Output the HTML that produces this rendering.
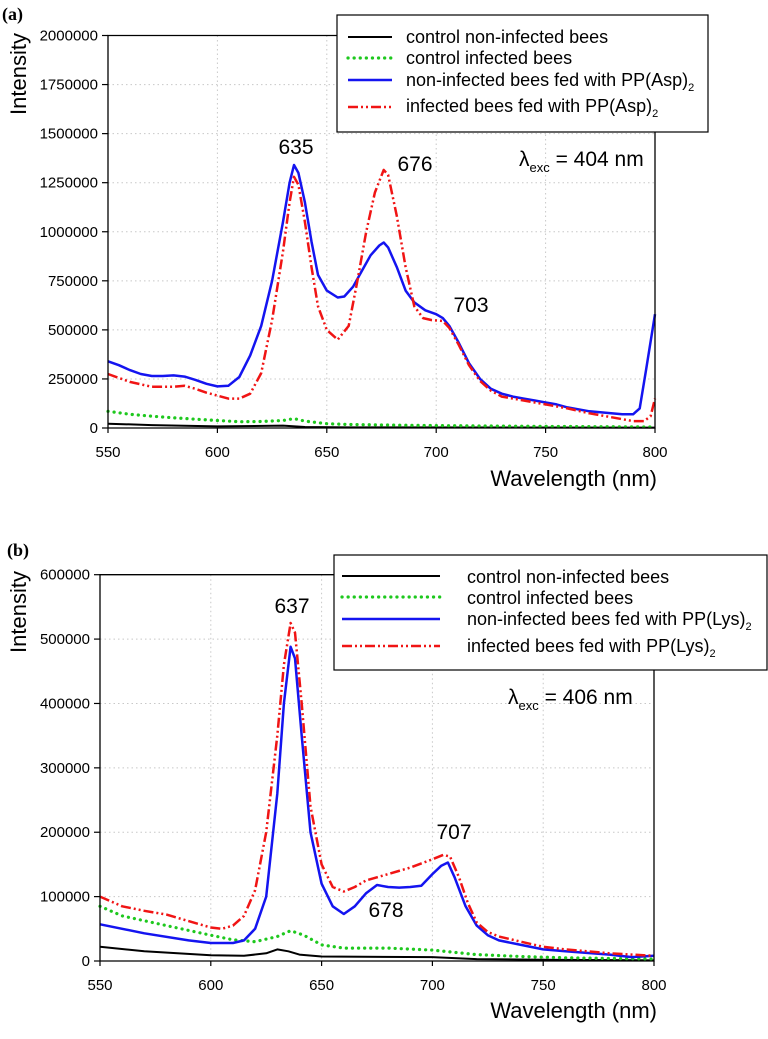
<!DOCTYPE html>
<html><head><meta charset="utf-8"><style>
body{margin:0;background:#fff;}
svg{display:block;font-family:"Liberation Sans",Arial,sans-serif;}
</style></head><body>
<svg id="c" width="768" height="1039" viewBox="0 0 768 1039" xmlns="http://www.w3.org/2000/svg"></svg>
<script>
// ---- Panel (a) data ----
const aTicksX=[550,600,650,700,750,800];
const aTicksY=[0,250000,500000,750000,1000000,1250000,1500000,1750000,2000000];
const aBlackX=[550,570,600,630,640,660,800];
const aBlackY=[22000,15000,8000,12000,5000,3000,2000];
const aGreenX=[550,560,570,580,590,600,610,620,630,635,640,650,660,680,700,750,800];
const aGreenY=[85000,70000,60000,52000,45000,38000,32000,33000,38000,48000,35000,22000,18000,15000,12000,8000,5000];
const aBlueX=[550,555,560,565,570,575,580,585,590,595,600,605,610,615,620,625,630,633,635,637,640,643,646,650,655,658,662,666,670,674,676,678,682,686,690,695,700,703,706,710,715,720,725,730,735,740,745,750,755,760,765,770,775,780,785,790,793,796,800];
const aBlueY=[340000,320000,295000,275000,265000,265000,268000,262000,245000,225000,212000,215000,260000,370000,520000,750000,1050000,1250000,1340000,1300000,1150000,950000,780000,700000,665000,670000,720000,800000,880000,930000,945000,920000,820000,700000,640000,600000,580000,560000,520000,440000,330000,250000,200000,175000,160000,150000,140000,130000,120000,105000,95000,85000,80000,75000,70000,70000,100000,300000,580000];
const aRedX=[550,560,570,580,585,590,595,600,605,610,615,620,625,630,633,635,637,640,643,646,650,655,660,664,668,672,676,678,682,686,690,694,698,703,706,710,715,720,725,730,740,750,760,770,780,790,795,798,800];
const aRedY=[275000,235000,210000,210000,215000,200000,180000,165000,150000,150000,175000,280000,550000,900000,1150000,1280000,1240000,1050000,820000,620000,500000,450000,520000,750000,1000000,1200000,1315000,1290000,1080000,820000,620000,560000,550000,545000,510000,430000,320000,240000,190000,160000,140000,120000,100000,75000,55000,35000,35000,60000,150000];
// ---- Panel (b) data ----
const bTicksX=[550,600,650,700,750,800];
const bTicksY=[0,100000,200000,300000,400000,500000,600000];
const bBlackX=[550,570,600,615,625,630,635,640,650,700,720,750,800];
const bBlackY=[22000,15000,9000,8000,12000,18000,15000,10000,7000,6000,3000,2000,1000];
const bGreenX=[550,560,580,600,610,620,630,636,642,650,660,680,700,720,740,760,800];
const bGreenY=[85000,70000,55000,40000,33000,30000,38000,47000,40000,25000,20000,20000,17000,10000,7000,5000,3000];
const bBlueX=[550,570,590,600,610,615,620,625,630,633,636,638,641,645,650,655,660,665,670,675,680,685,690,695,700,704,707,710,715,720,725,730,740,750,760,780,790,800];
const bBlueY=[57000,43000,32000,28000,28000,32000,50000,100000,260000,400000,488000,470000,350000,200000,120000,85000,73000,85000,105000,118000,115000,114000,115000,117000,135000,148000,153000,130000,85000,55000,40000,32000,25000,18000,15000,10000,6000,8000];
const bRedX=[550,560,570,580,590,600,605,610,615,620,625,630,633,636,638,641,645,650,655,660,665,670,680,690,700,705,708,712,716,720,725,730,740,750,760,770,780,790,800];
const bRedY=[100000,85000,78000,72000,62000,52000,50000,55000,70000,110000,200000,350000,460000,525000,510000,400000,240000,150000,115000,108000,115000,125000,135000,145000,158000,165000,162000,130000,90000,60000,45000,38000,30000,22000,18000,15000,12000,10000,8000];

const NS="http://www.w3.org/2000/svg";
const svg=document.getElementById('c');
function mk(tag,attrs,parent){const e=document.createElementNS(NS,tag);for(const k in attrs)e.setAttribute(k,attrs[k]);(parent||svg).appendChild(e);return e;}

function panel(cfg){
  const g=mk('g',{});
  
  
  const sx=v=>cfg.x0+(v-550)/250*(cfg.x1-cfg.x0);
  const sy=v=>cfg.y0-v/cfg.ymax*(cfg.y0-cfg.y1);
  cfg.tx.forEach(t=>{ if(t>550&&t<800){const l=mk('line',{x1:sx(t),x2:sx(t),y1:cfg.y1,y2:cfg.y0,stroke:'#c8c8c8','stroke-width':1,'stroke-dasharray':'1.5,3'},g);
    
    }});
  cfg.ty.forEach(t=>{ if(t>0&&t<cfg.ymax){const l=mk('line',{x1:cfg.x0,x2:cfg.x1,y1:sy(t),y2:sy(t),stroke:'#c8c8c8','stroke-width':1,'stroke-dasharray':'1.5,3'},g);
    
    }});
  cfg.series.forEach(s=>{
    const d=s.x.map((x,i)=>(i?'L':'M')+sx(x).toFixed(1)+','+sy(s.y[i]).toFixed(1)).join('');
    const p=mk('path',{d:d,fill:'none',stroke:s.c,'stroke-width':s.w,'stroke-dasharray':s.dash||'none','stroke-linecap':s.cap||'butt','stroke-linejoin':'round'},g);
    
    
  });
  const f=mk('path',{d:`M${cfg.x0},${cfg.y1}H${cfg.x1}V${cfg.y0}H${cfg.x0}Z`,fill:'none',stroke:'#000','stroke-width':1.3},g);
  
  
  cfg.tx.forEach(t=>{
    mk('line',{x1:sx(t),x2:sx(t),y1:cfg.y0,y2:cfg.y0+5,stroke:'#000','stroke-width':1.2},g);
    const tl=mk('text',{x:sx(t),y:cfg.y0+29,'font-size':15,'text-anchor':'middle'},g);
    tl.textContent=t;
    
    
  });
  cfg.ty.forEach(t=>{
    mk('line',{x1:cfg.x0-6,x2:cfg.x0,y1:sy(t),y2:sy(t),stroke:'#000','stroke-width':1.2},g);
    const tl=mk('text',{x:cfg.x0-10,y:sy(t)+5,'font-size':15,'text-anchor':'end'},g);
    tl.textContent=t;
    
    
  });
}

panel({name:'panel-a',x0:108,x1:655,y0:428,y1:35.5,ymax:2000000,tx:aTicksX,ty:aTicksY,series:[
 {name:'series-control-non-infected',x:aBlackX,y:aBlackY,c:'#000',w:2},
 {name:'series-control-infected',x:aGreenX,y:aGreenY,c:'#1ec81e',w:3.2,dash:'0.1,6',cap:'round'},
 {name:'series-non-infected-fed',x:aBlueX,y:aBlueY,c:'#1414f0',w:2.5},
 {name:'series-infected-fed',x:aRedX,y:aRedY,c:'#f01414',w:2.5,dash:'10,3,2,3,2,3'}]});
panel({name:'panel-b',x0:100,x1:654,y0:961,y1:574.7,ymax:600000,tx:bTicksX,ty:bTicksY,series:[
 {name:'series-control-non-infected',x:bBlackX,y:bBlackY,c:'#000',w:2},
 {name:'series-control-infected',x:bGreenX,y:bGreenY,c:'#1ec81e',w:3.2,dash:'0.1,6',cap:'round'},
 {name:'series-non-infected-fed',x:bBlueX,y:bBlueY,c:'#1414f0',w:2.5},
 {name:'series-infected-fed',x:bRedX,y:bRedY,c:'#f01414',w:2.5,dash:'10,3,2,3,2,3'}]});
</script>
<svg width="768" height="1039" style="position:absolute;left:0;top:0" xmlns="http://www.w3.org/2000/svg" font-family="Liberation Sans, Arial, sans-serif">
 <text x="2" y="20" font-family="Liberation Serif, serif" font-weight="bold" font-size="18">(a)</text>
 <text x="7" y="556" font-family="Liberation Serif, serif" font-weight="bold" font-size="18">(b)</text>
 <text transform="translate(26,74) rotate(-90)" text-anchor="middle" font-size="22">Intensity</text>
 <text transform="translate(26,612) rotate(-90)" text-anchor="middle" font-size="22">Intensity</text>
 <text x="657" y="486" text-anchor="end" font-size="22">Wavelength (nm)</text>
 <text x="657" y="1018" text-anchor="end" font-size="22">Wavelength (nm)</text>
 <text x="296" y="154" text-anchor="middle" font-size="21">635</text>
 <text x="415" y="171" text-anchor="middle" font-size="21">676</text>
 <text x="471" y="312" text-anchor="middle" font-size="21">703</text>
 <text x="519" y="166" font-size="21">λ<tspan font-size="13" dy="6">exc</tspan><tspan dy="-6"> = 404 nm</tspan></text>
 <text x="292" y="613" text-anchor="middle" font-size="21">637</text>
 <text x="386" y="917" text-anchor="middle" font-size="21">678</text>
 <text x="454" y="839" text-anchor="middle" font-size="21">707</text>
 <text x="508" y="704" font-size="21">λ<tspan font-size="13" dy="6">exc</tspan><tspan dy="-6"> = 406 nm</tspan></text>
 <g>
  <rect x="337" y="15" width="371" height="117" fill="#fff" stroke="#000" stroke-width="1.2"/>
  <line x1="348" x2="392" y1="37" y2="37" stroke="#000" stroke-width="2"/>
  <line x1="348" x2="392" y1="58" y2="58" stroke="#1ec81e" stroke-width="3.2" stroke-dasharray="0.1,6" stroke-linecap="round"/>
  <line x1="348" x2="392" y1="80" y2="80" stroke="#1414f0" stroke-width="2.5"/>
  <line x1="348" x2="392" y1="107" y2="107" stroke="#f01414" stroke-width="2.5" stroke-dasharray="10,3,2,3,2,3"/>
  <text x="406" y="43" font-size="18">control non-infected bees</text>
  <text x="406" y="64" font-size="18">control infected bees</text>
  <text x="406" y="86" font-size="18">non-infected bees fed with PP(Asp)<tspan font-size="11" dy="5">2</tspan></text>
  <text x="406" y="112" font-size="18">infected bees fed with PP(Asp)<tspan font-size="11" dy="5">2</tspan></text>
 </g>
 <g>
  <rect x="334" y="555" width="433" height="115" fill="#fff" stroke="#000" stroke-width="1.2"/>
  <line x1="342" x2="440" y1="576" y2="576" stroke="#000" stroke-width="2"/>
  <line x1="342" x2="440" y1="597" y2="597" stroke="#1ec81e" stroke-width="3.2" stroke-dasharray="0.1,6" stroke-linecap="round"/>
  <line x1="342" x2="440" y1="619" y2="619" stroke="#1414f0" stroke-width="2.5"/>
  <line x1="342" x2="440" y1="646" y2="646" stroke="#f01414" stroke-width="2.5" stroke-dasharray="10,3,2,3,2,3"/>
  <text x="467" y="583" font-size="18">control non-infected bees</text>
  <text x="467" y="604" font-size="18">control infected bees</text>
  <text x="467" y="625" font-size="18">non-infected bees fed with PP(Lys)<tspan font-size="11" dy="5">2</tspan></text>
  <text x="467" y="652" font-size="18">infected bees fed with PP(Lys)<tspan font-size="11" dy="5">2</tspan></text>
 </g>
</svg>
</body></html>
